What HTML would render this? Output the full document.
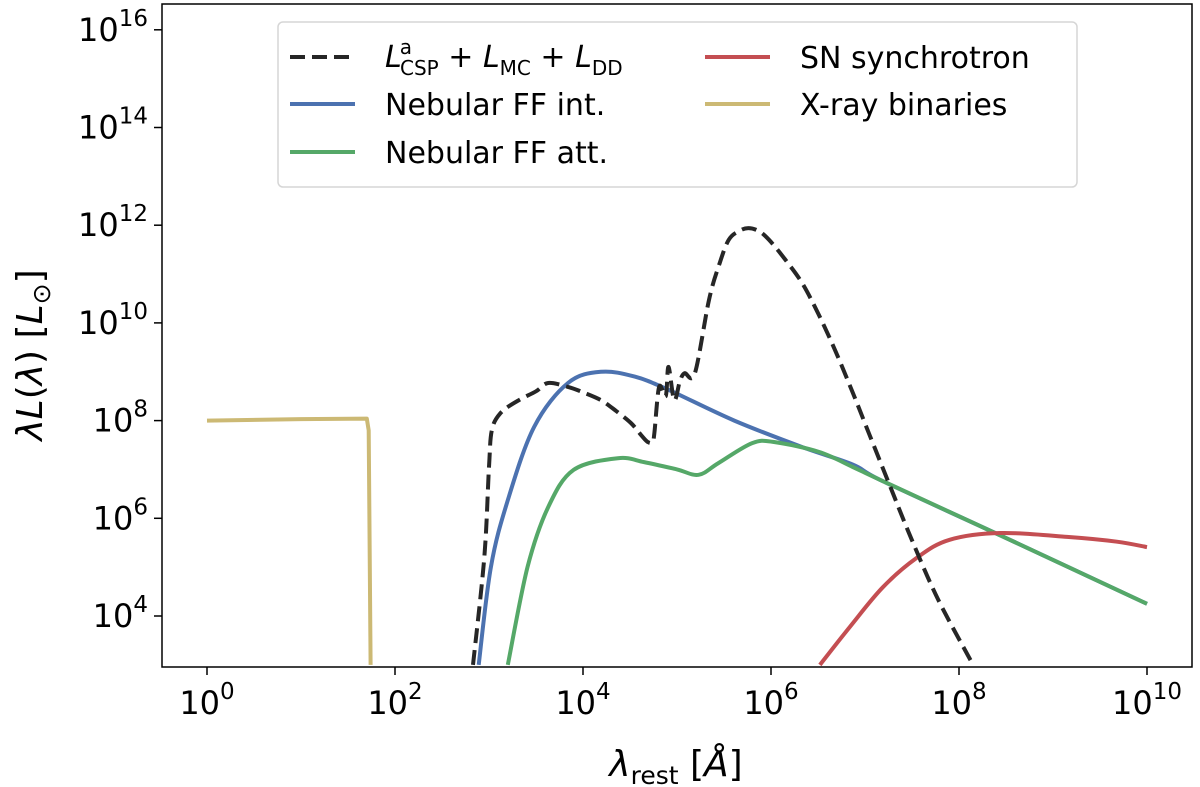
<!DOCTYPE html>
<html><head><meta charset="utf-8"><style>
html,body{margin:0;padding:0;background:#fff;}
svg{display:block;font-family:"DejaVu Sans","Liberation Sans",sans-serif;}
</style></head><body>
<svg id="chart" width="1200" height="787" viewBox="0 0 1200 787" xmlns="http://www.w3.org/2000/svg"></svg>
<script>
// log10 data points [log10(lambda), log10(L)]
const xTicks=[0,2,4,6,8,10];
const yTicks=[4,6,8,10,12,14,16];
const blackLx=[2.83,2.95,3.0,3.03,3.12,3.3,3.5,3.63,3.84,4.0,4.19,4.35,4.51,4.62,4.69,4.74,4.76,4.81,4.88,4.91,4.97,5.03,5.08,5.19,5.34,5.45,5.55,5.66,5.76,5.87,5.98,6.15,6.33,6.5,6.68,6.87,7.05,7.27,7.5,7.78,8.15];
const blackLy=[3.0,5.2,7.05,7.8,8.15,8.4,8.6,8.77,8.69,8.58,8.42,8.2,7.95,7.7,7.56,7.56,7.75,8.69,8.5,9.1,8.42,8.8,8.97,8.97,10.47,11.2,11.7,11.88,11.94,11.88,11.7,11.3,10.82,10.2,9.45,8.57,7.7,6.64,5.55,4.33,3.0];
const blueLx=[2.89,3.02,3.2,3.48,3.84,4.19,4.55,4.91,5.61,6.33,6.87,7.19,8.44,10];
const blueLy=[3.0,5.0,6.37,7.87,8.77,9.0,8.9,8.63,8.0,7.46,7.1,6.76,5.65,4.25];
const greenLx=[3.2,3.41,3.63,3.9,4.37,4.65,5.0,5.23,5.44,5.8,6.04,6.51,6.87,7.19,8.44,10];
const greenLy=[3.0,5.0,6.23,6.99,7.23,7.15,7.0,6.89,7.13,7.54,7.56,7.36,7.05,6.76,5.65,4.25];
const redLx=[6.52,6.84,7.19,7.55,7.9,8.44,9.15,9.68,10.0];
const redLy=[3.0,3.78,4.59,5.19,5.56,5.70,5.62,5.52,5.41];
const xrayLx=[0,1.0,1.7,1.72,1.74];
const xrayLy=[8.0,8.03,8.04,7.8,3.0];

const NS="http://www.w3.org/2000/svg";
const svg=document.getElementById('chart');
const L=162,R=1192,T=4,B=667;
const X=l=>207+94*l;
const Y=l=>616-(l-4)*48.85;
function el(tag,attrs,parent){const e=document.createElementNS(NS,tag);for(const k in attrs)e.setAttribute(k,attrs[k]);(parent||svg).appendChild(e);return e;}
const defs=el('defs',{});
const cp=el('clipPath',{id:'clip'},defs);
el('rect',{x:L,y:T,width:R-L,height:B-T},cp);
const plot=el('g',{'clip-path':'url(#clip)'});


function smoothPath(xs,ys,smooth){
  const p=xs.map((v,i)=>[X(v),Y(ys[i])]);
  let d='M'+p[0][0].toFixed(1)+','+p[0][1].toFixed(1);
  for(let i=0;i<p.length-1;i++){
    if(!smooth){d+=' L'+p[i+1][0].toFixed(1)+','+p[i+1][1].toFixed(1);continue;}
    const p0=p[Math.max(0,i-1)],p1=p[i],p2=p[i+1],p3=p[Math.min(p.length-1,i+2)];
    const c1=[p1[0]+(p2[0]-p0[0])/6,p1[1]+(p2[1]-p0[1])/6];
    const c2=[p2[0]-(p3[0]-p1[0])/6,p2[1]-(p3[1]-p1[1])/6];
    d+=' C'+c1[0].toFixed(1)+','+c1[1].toFixed(1)+' '+c2[0].toFixed(1)+','+c2[1].toFixed(1)+' '+p2[0].toFixed(1)+','+p2[1].toFixed(1);
  }
  return d;
}
function line(xs,ys,color,name,dash,smooth){
  const p=el('path',{d:smoothPath(xs,ys,smooth!==false),fill:'none',stroke:color,'stroke-width':4,'stroke-linejoin':'round'},plot);
  if(dash)p.setAttribute('stroke-dasharray',dash);
  
  
}
line(xrayLx,xrayLy,'#ccb974','xray-binaries-line',null,false);
line(blueLx,blueLy,'#4c72b0','nebular-ff-int-line');
line(greenLx,greenLy,'#55a868','nebular-ff-att-line');
line(redLx,redLy,'#c44e52','sn-synchrotron-line');
line(blackLx,blackLy,'#262626','csp-mc-dd-line','15,7');
const fr=el('rect',{x:L,y:T,width:R-L,height:B-T,fill:'none',stroke:'#000','stroke-width':1.5});


xTicks.forEach(t=>{
  const x=X(t);
  el('line',{x1:x,y1:B,x2:x,y2:B+8,stroke:'#000','stroke-width':1.5});
  const tx=el('text',{x:x,y:B+47,'font-size':32,'text-anchor':'middle',fill:'#000'});
  tx.innerHTML='10<tspan dy="-15" font-size="23">'+t+'</tspan>';
  
  
});
yTicks.forEach(t=>{
  const y=Y(t);
  el('line',{x1:L-8,y1:y,x2:L,y2:y,stroke:'#000','stroke-width':1.5});
  const tx=el('text',{x:L-14,y:y+11,'font-size':32,'text-anchor':'end',fill:'#000'});
  tx.innerHTML='10<tspan dy="-15" font-size="23">'+t+'</tspan>';
  
  
});
</script>
<svg style="position:absolute;left:0;top:0" width="1200" height="787" font-family="DejaVu Sans, Liberation Sans, sans-serif">
  <text x="676" y="776" font-size="36" text-anchor="middle"><tspan font-style="italic">λ</tspan><tspan font-size="25" dy="8">rest</tspan><tspan dy="-8"> [</tspan><tspan font-style="italic">Å</tspan>]</text>
  <text transform="translate(42,355) rotate(-90)" font-size="36" text-anchor="middle"><tspan font-style="italic">λL</tspan>(<tspan font-style="italic">λ</tspan>) [<tspan font-style="italic">L</tspan><tspan font-size="25" dy="8">⊙</tspan><tspan dy="-8">]</tspan></text>
  <g>
    <rect x="278" y="22" width="799" height="165" rx="5" fill="#fff" fill-opacity="0.85" stroke="#d6d6d6" stroke-width="1.5"/>
    <line x1="290" y1="57" x2="355" y2="57" stroke="#262626" stroke-width="4" stroke-dasharray="15,7"/>
    <text x="385" y="67" font-size="30"><tspan font-style="italic">L</tspan><tspan font-size="20" dy="-13" dx="-2">a</tspan><tspan font-size="20" dy="21" dx="-12">CSP</tspan><tspan dy="-8"> + </tspan><tspan font-style="italic">L</tspan><tspan font-size="20" dy="8">MC</tspan><tspan dy="-8"> + </tspan><tspan font-style="italic">L</tspan><tspan font-size="20" dy="8">DD</tspan></text>
    <line x1="290" y1="104" x2="355" y2="104" stroke="#4c72b0" stroke-width="4"/>
    <text x="385" y="115" font-size="30">Nebular FF int.</text>
    <line x1="290" y1="152" x2="355" y2="152" stroke="#55a868" stroke-width="4"/>
    <text x="385" y="163" font-size="30">Nebular FF att.</text>
    <line x1="705" y1="57" x2="770" y2="57" stroke="#c44e52" stroke-width="4"/>
    <text x="800" y="68" font-size="30">SN synchrotron</text>
    <line x1="705" y1="104" x2="770" y2="104" stroke="#ccb974" stroke-width="4"/>
    <text x="800" y="115" font-size="30">X-ray binaries</text>
  </g>
</svg>
</body></html>
